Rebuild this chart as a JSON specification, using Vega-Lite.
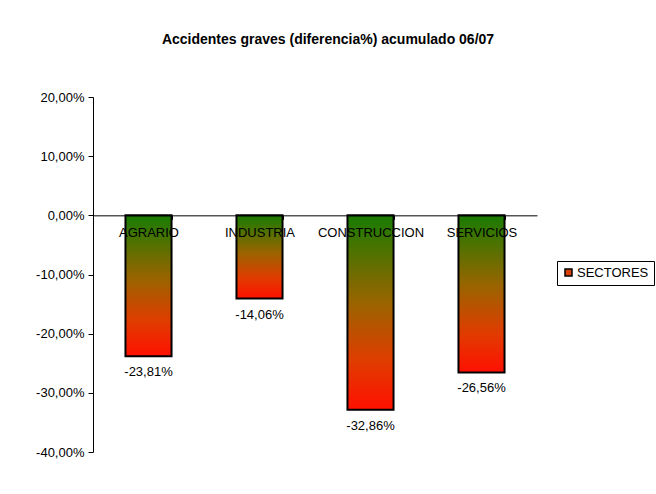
{
  "$schema": "https://vega.github.io/schema/vega-lite/v6.json",
  "autosize": {"type": "none"},
  "width": 444,
  "height": 355,
  "padding": {"left": 93, "top": 97, "right": 119, "bottom": 42},
  "background": "white",
  "config": {
    "locale": {"number": {"decimal": ",", "thousands": ".", "grouping": [3], "currency": ["", " €"], "minus": "-"}},
    "view": {"stroke": null},
    "font": "Liberation Sans",
    "axis": {"labelFont": "Liberation Sans", "labelColor": "black", "domainColor": "black", "tickColor": "black", "labelFontSize": 13}
  },
  "title": {
    "text": "Accidentes graves (diferencia%) acumulado 06/07",
    "font": "Liberation Sans",
    "fontSize": 14,
    "fontWeight": "bold",
    "color": "black",
    "anchor": "middle",
    "frame": "group",
    "dx": 13,
    "offset": 44
  },
  "data": {
    "values": [
      {"sector": "AGRARIO", "valor": -0.2381, "serie": "SECTORES"},
      {"sector": "INDUSTRIA", "valor": -0.1406, "serie": "SECTORES"},
      {"sector": "CONSTRUCCION", "valor": -0.3286, "serie": "SECTORES"},
      {"sector": "SERVICIOS", "valor": -0.2656, "serie": "SECTORES"}
    ]
  },
  "encoding": {
    "x": {
      "field": "sector",
      "type": "nominal",
      "sort": null,
      "scale": {"paddingInner": 0.585, "paddingOuter": 0.2925},
      "axis": {
        "title": null,
        "labelAngle": 0,
        "offset": -236.67,
        "tickBand": "extent",
        "tickSize": 4,
        "labelPadding": 7,
        "zindex": 2,
        "labelFontSize": 13
      }
    },
    "y": {
      "field": "valor",
      "type": "quantitative",
      "scale": {"domain": [-0.4, 0.2], "nice": false},
      "axis": {
        "title": null,
        "format": ".2%",
        "values": [-0.4, -0.3, -0.2, -0.1, 0, 0.1, 0.2],
        "grid": false,
        "tickSize": 5,
        "labelPadding": 4
      }
    }
  },
  "layer": [
    {
      "mark": {
        "type": "bar",
        "stroke": "black",
        "strokeWidth": 2,
        "fill": {
          "gradient": "linear",
          "x1": 0, "y1": 0, "x2": 0, "y2": 1,
          "stops": [
            {"offset": 0, "color": "#187c00"},
            {"offset": 0.45, "color": "#9a6400"},
            {"offset": 0.75, "color": "#e03c00"},
            {"offset": 1, "color": "#ff1000"}
          ]
        }
      }
    },
    {
      "transform": [{"filter": "false"}],
      "mark": {"type": "point", "shape": "square", "filled": true, "opacity": 1, "stroke": "black", "strokeWidth": 1.5},
      "encoding": {
        "fill": {
          "field": "serie",
          "type": "nominal",
          "scale": {"domain": ["SECTORES"], "range": ["#d84000"]},
          "legend": {
            "title": null,
            "orient": "none",
            "legendX": 464,
            "legendY": 164,
            "strokeColor": "black",
            "padding": 5,
            "symbolType": "square",
            "symbolSize": 49,
            "symbolStrokeColor": "black",
            "symbolStrokeWidth": 1.5,
            "labelFont": "Liberation Sans",
            "labelFontSize": 13,
            "labelColor": "black",
            "labelOffset": 2,
            "fillColor": "white"
          }
        }
      }
    },
    {
      "mark": {"type": "text", "baseline": "middle", "dy": 16, "font": "Liberation Sans", "fontSize": 13, "color": "black"},
      "encoding": {
        "text": {"field": "valor", "type": "quantitative", "format": ".2%"}
      }
    }
  ]
}
